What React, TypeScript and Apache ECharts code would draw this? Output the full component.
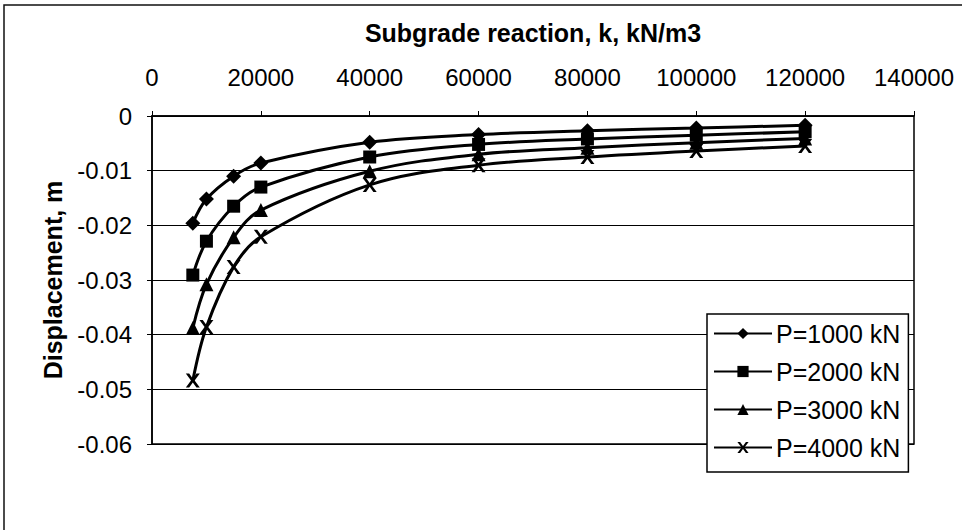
import React, { useEffect, useRef } from "react";
import * as echarts from "echarts";

// Subgrade reaction modulus k (kN/m3)
const kValues = [7500, 10000, 15000, 20000, 40000, 60000, 80000, 100000, 120000];

// Displacement (m) for each applied load
const p1000 = [-0.0196, -0.0152, -0.011, -0.0086, -0.0048, -0.0034, -0.0027, -0.0022, -0.0017];
const p2000 = [-0.0291, -0.0229, -0.0165, -0.013, -0.0075, -0.0052, -0.0042, -0.0035, -0.0029];
const p3000 = [-0.0388, -0.0308, -0.0222, -0.0172, -0.0101, -0.007, -0.0058, -0.0049, -0.0041];
const p4000 = [-0.0484, -0.0386, -0.0276, -0.0221, -0.0126, -0.009, -0.0075, -0.0064, -0.0055];

const seriesNames = ["P=1000 kN", "P=2000 kN", "P=3000 kN", "P=4000 kN"];

const FONT = "'Liberation Sans', Arial, sans-serif";
const X_MARK = "path://M0,0L2.4,0L5,3.6L7.6,0L10,0L6.3,5L10,10L7.6,10L5,6.4L2.4,10L0,10L3.7,5Z";

export default function App() {
  const ref = useRef<HTMLDivElement>(null);

  useEffect(() => {
    if (!ref.current) return;
    const chart = echarts.init(ref.current, undefined, { renderer: "svg" });

    const mk = (name: string, vals: number[], symbol: string, size: number) => ({
      name,
      type: "line",
      data: kValues.map((k, i) => [k, vals[i]]),
      smooth: 0.35,
      symbol,
      symbolSize: size,
      lineStyle: { color: "#000", width: 3 },
      itemStyle: { color: "#000" },
    });

    chart.setOption({
      animation: false,
      backgroundColor: "#fff",
      grid: {
        left: 152,
        right: 48,
        top: 116,
        bottom: 86,
        show: true,
        borderColor: "#000",
        borderWidth: 1.5,
      },
      xAxis: {
        type: "value",
        position: "top",
        min: 0,
        max: 140000,
        interval: 20000,
        name: "Subgrade reaction, k, kN/m3",
        nameLocation: "middle",
        nameGap: 71,
        nameTextStyle: { fontFamily: FONT, fontSize: 25, fontWeight: "bold", color: "#000" },
        axisLine: { show: true, lineStyle: { color: "#000", width: 1.5 } },
        axisTick: { show: true, length: 5, lineStyle: { color: "#000" } },
        axisLabel: {
          fontFamily: FONT,
          fontSize: 24,
          color: "#000",
          margin: 27,
          formatter: (v: number) => String(v),
        },
        splitLine: { show: false },
      },
      yAxis: {
        type: "value",
        min: -0.06,
        max: 0,
        interval: 0.01,
        name: "Displacement, m",
        nameLocation: "middle",
        nameRotate: 90,
        nameGap: 87,
        nameTextStyle: { fontFamily: FONT, fontSize: 25, fontWeight: "bold", color: "#000" },
        axisLine: { show: true, lineStyle: { color: "#000", width: 1.5 } },
        axisTick: { show: true, length: 5, lineStyle: { color: "#000" } },
        axisLabel: { fontFamily: FONT, fontSize: 24, color: "#000", margin: 20 },
        splitLine: { show: true, lineStyle: { color: "#000", width: 1.2 } },
      },
      legend: {
        orient: "vertical",
        left: 707,
        top: 314,
        data: seriesNames,
        itemWidth: 58,
        itemHeight: 14,
        itemGap: 13,
        padding: [7, 8, 12, 6],
        borderColor: "#000",
        borderWidth: 1.5,
        backgroundColor: "#fff",
        textStyle: { fontFamily: FONT, fontSize: 25, color: "#000", padding: [0, 0, 0, -1] },
      },
      graphic: [
        {
          type: "polyline",
          shape: { points: [[4, 530], [4, 5], [962, 5]] },
          style: { stroke: "#111", lineWidth: 1.5, fill: "none" },
          silent: true,
        },
      ],
      series: [
        mk(seriesNames[0], p1000, "diamond", 15),
        mk(seriesNames[1], p2000, "rect", 13),
        mk(seriesNames[2], p3000, "triangle", 14),
        mk(seriesNames[3], p4000, X_MARK, 14),
      ],
    });

    return () => chart.dispose();
  }, []);

  return <div ref={ref} style={{ width: 962, height: 530, position: "absolute", left: 0, top: 0 }} />;
}
